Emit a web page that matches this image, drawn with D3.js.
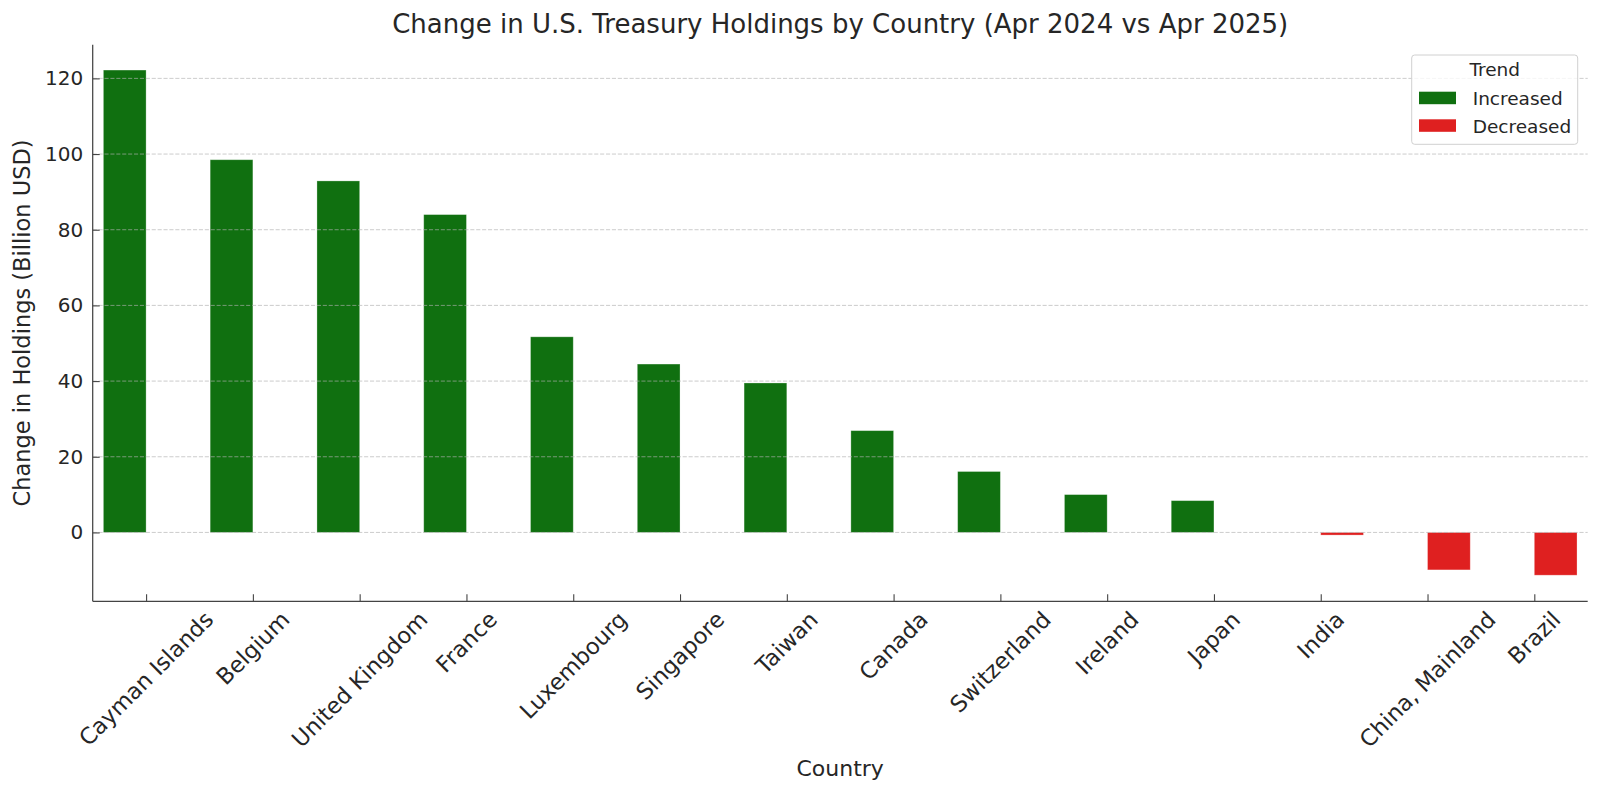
<!DOCTYPE html>
<html>
<head>
<meta charset="utf-8">
<script src="https://cdn.jsdelivr.net/npm/d3@7"></script>
<style>
  html, body { margin: 0; padding: 0; background: #ffffff; }
  svg { display: block; font-family: "DejaVu Sans", sans-serif; }
</style>
</head>
<body>
<svg id="chart" width="1600" height="794"></svg>
<script>
// ---- data ----
const countries = ["Cayman Islands", "Belgium", "United Kingdom", "France", "Luxembourg",
  "Singapore", "Taiwan", "Canada", "Switzerland", "Ireland", "Japan", "India",
  "China, Mainland", "Brazil"];
const changes = [122.2, 98.5, 92.9, 84.0, 51.7, 44.5, 39.5, 26.9, 16.1, 10.0, 8.4, -0.7, -9.9, -11.3];
const trendNames = ["Increased", "Decreased"];
const trendColors = ["#107010", "#df2020"];
const yTickValues = [0, 20, 40, 60, 80, 100, 120];
const titleText = "Change in U.S. Treasury Holdings by Country (Apr 2024 vs Apr 2025)";
const xLabelText = "Country";
const yLabelText = "Change in Holdings (Billion USD)";
const legendTitle = "Trend";

// ---- layout ----
const pL = 92.7, pR = 1587.7, pT = 44.7, pB = 601.3;
const textColor = "#262626";
const svg = d3.select("#chart");

const x = d3.scaleLinear().domain([-0.5, countries.length - 0.5]).range([pL, pR]);
const y = d3.scaleLinear().domain([-18.2, 128.9]).range([pB, pT]);
const color = d3.scaleOrdinal().domain(trendNames).range(trendColors);

const rows = countries.map((c, i) => ({
  country: c, i, value: changes[i],
  trend: changes[i] >= 0 ? trendNames[0] : trendNames[1]
}));

// bars (hue dodge: increased left of tick, decreased right)
const barW = 0.4;
svg.append("g").selectAll("rect").data(rows).join("rect")
  .attr("x", d => x(d.trend === trendNames[0] ? d.i - barW : d.i))
  .attr("width", d => x(barW) - x(0))
  .attr("y", d => y(Math.max(0, d.value)))
  .attr("height", d => Math.abs(y(d.value) - y(0)))
  .attr("fill", d => color(d.trend))
  .attr("stroke", "#ffffff")
  .attr("stroke-opacity", 0.35)
  .attr("stroke-width", 0.8);

// gridlines (drawn above bars)
svg.append("g").selectAll("line").data(yTickValues).join("line")
  .attr("x1", pL).attr("x2", pR)
  .attr("y1", d => y(d)).attr("y2", d => y(d))
  .attr("stroke", "#b0b0b0")
  .attr("stroke-opacity", 0.65)
  .attr("stroke-width", 1)
  .attr("stroke-dasharray", "4.1,1.8");

// y axis
const yAxis = d3.axisLeft(y).tickValues(yTickValues).tickSizeInner(-7).tickSizeOuter(0).tickPadding(9.5);
const gy = svg.append("g").attr("transform", `translate(${pL},0)`).call(yAxis);
gy.select(".domain").remove();
gy.selectAll(".tick line").attr("stroke", "#444").attr("stroke-width", 1.1);
gy.selectAll(".tick text").attr("font-size", 20).attr("fill", textColor)
  .attr("font-family", "DejaVu Sans, sans-serif");

// x axis ticks
const xAxis = d3.axisBottom(x).tickValues(d3.range(countries.length)).tickSizeInner(-7).tickSizeOuter(0).tickFormat("");
const gx = svg.append("g").attr("transform", `translate(0,${pB})`).call(xAxis);
gx.select(".domain").remove();
gx.selectAll(".tick line").attr("stroke", "#444").attr("stroke-width", 1.1);

// spines
svg.append("line").attr("x1", pL).attr("x2", pL).attr("y1", pT).attr("y2", pB)
  .attr("stroke", "#444").attr("stroke-width", 1.25);
svg.append("line").attr("x1", pL).attr("x2", pR).attr("y1", pB).attr("y2", pB)
  .attr("stroke", "#444").attr("stroke-width", 1.25);

// rotated x tick labels (matplotlib rotation=45, ha=center, va=top)
const fs = 22.5;
const labelTop = pB + 5;
const xl = svg.append("g");
rows.forEach(d => {
  const g = xl.append("g");
  const t = g.append("text")
    .attr("font-size", fs).attr("fill", textColor)
    .attr("text-anchor", "middle")
    .attr("y", 0.346 * fs)
    .text(d.country);
  const w = t.node().getComputedTextLength();
  const h = fs * 1.164;
  const side = (w + h) / Math.SQRT2;
  g.attr("transform", `translate(${x(d.i)},${labelTop + side / 2}) rotate(-45)`);
});

// title
svg.append("text").attr("x", (pL + pR) / 2).attr("y", 33)
  .attr("text-anchor", "middle").attr("font-size", 26).attr("fill", textColor)
  .text(titleText);

// axis labels
svg.append("text").attr("x", (pL + pR) / 2).attr("y", 776)
  .attr("text-anchor", "middle").attr("font-size", 22).attr("fill", textColor)
  .text(xLabelText);
svg.append("text").attr("transform", `translate(30,${(pT + pB) / 2}) rotate(-90)`)
  .attr("text-anchor", "middle").attr("font-size", 22.5).attr("fill", textColor)
  .text(yLabelText);

// legend
const lg = svg.append("g");
const lx0 = 1411.7, ly0 = 55, lw = 166, lh = 89.3;
lg.append("rect").attr("x", lx0).attr("y", ly0).attr("width", lw).attr("height", lh)
  .attr("rx", 3).attr("ry", 3)
  .attr("fill", "#ffffff").attr("fill-opacity", 0.8)
  .attr("stroke", "#d0d0d0").attr("stroke-width", 1);
lg.append("text").attr("x", lx0 + lw / 2).attr("y", 76)
  .attr("text-anchor", "middle").attr("font-size", 18.5).attr("fill", textColor)
  .text(legendTitle);
trendNames.forEach((n, k) => {
  const yy = 91.7 + k * 27.6;
  lg.append("rect").attr("x", 1419).attr("y", yy).attr("width", 37).attr("height", 12.5)
    .attr("fill", color(n));
  lg.append("text").attr("x", 1472.7).attr("y", yy + 13.3)
    .attr("font-size", 18.5).attr("fill", textColor).text(n);
});
</script>
</body>
</html>
